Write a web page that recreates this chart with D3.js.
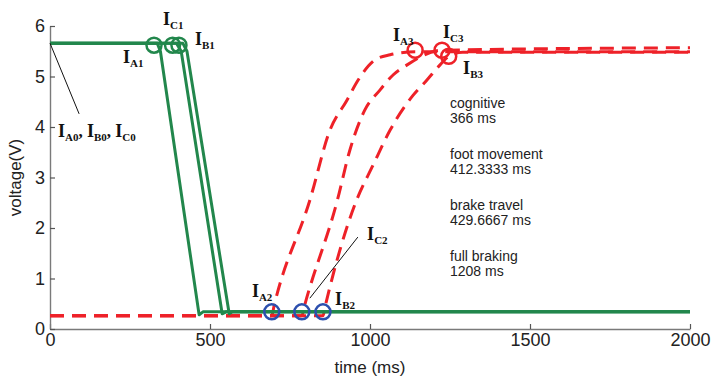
<!DOCTYPE html>
<html>
<head>
<meta charset="utf-8">
<script src="https://cdn.jsdelivr.net/npm/d3@7"></script>
<style>
  body { margin: 0; background: #fff; }
  svg { display: block; }
</style>
</head>
<body>
<div id="chart"></div>
<script>
// pedal signal traces: [time ms, voltage V]
const greenA = [[0,5.66],[335,5.66],[345,5.5],[466,0.28],[478,0.34],[2000,0.34]]
const greenC = [[0,5.66],[395,5.66],[410,5.5],[538,0.3],[550,0.34],[2000,0.34]]
const greenB = [[0,5.66],[415,5.66],[428,5.5],[560,0.3],[570,0.34],[2000,0.34]]

const redA = [[0,0.26],[693,0.26],[700,0.45],[812,2.55],[875,3.94],[928,4.53],[963,4.93],[1016,5.33],[1063,5.43],[1141,5.49],[2000,5.49]]
const redC = [[0,0.26],[787,0.26],[795,0.45],[898,2.55],[937,3.54],[984,4.34],[1031,4.73],[1072,5.03],[1116,5.23],[1225,5.52],[2000,5.57]]
const redB = [[0,0.26],[853,0.26],[860,0.45],[958,2.55],[1010,3.25],[1063,3.94],[1135,4.63],[1178,4.93],[1219,5.23],[1246,5.4],[1290,5.48],[2000,5.48]]

// marker circles
const greenPts = [[325,5.62],[383,5.62],[403,5.62]]
const bluePts = [[693,0.34],[787,0.34],[853,0.34]]
const redPts = [[1141,5.52],[1225,5.52],[1246,5.4]]

const xTicks = [0,500,1000,1500,2000]
const yTicks = [0,1,2,3,4,5,6]

// point labels: subscripts, anchor [time, voltage]
const pointLabels = [
  {subs: ["A0","B0","C0"], at: [25,3.8]},
  {subs: ["A1"], at: [228,5.27]},
  {subs: ["C1"], at: [353,6.02]},
  {subs: ["B1"], at: [453,5.62]},
  {subs: ["A2"], at: [631,0.63]},
  {subs: ["B2"], at: [891,0.48]},
  {subs: ["C2"], at: [991,1.76]},
  {subs: ["A3"], at: [1072,5.7]},
  {subs: ["C3"], at: [1228,5.76]},
  {subs: ["B3"], at: [1291,5.05]}
]
const pointers = [[[0,5.66],[91,4.26]], [[812,0.61],[962,1.82]]]

const phaseNames = ["cognitive","foot movement","brake travel","full braking"]
const phaseTimes = ["366 ms","412.3333 ms","429.6667 ms","1208 ms"]

const W = 712, H = 378
const margin = {top: 26, right: 22, bottom: 49, left: 50}

const svg = d3.select("#chart").append("svg")
  .attr("width", W).attr("height", H)

const x = d3.scaleLinear().domain([0,2000]).range([margin.left, W - margin.right])
const y = d3.scaleLinear().domain([0,6]).range([H - margin.bottom, margin.top])

// axes
const xAxis = svg.append("g")
  .attr("transform", `translate(0,${H - margin.bottom})`)
  .call(d3.axisBottom(x).tickValues(xTicks).tickFormat(d3.format("d"))
    .tickSize(-5).tickSizeOuter(0).tickPadding(4))
const yAxis = svg.append("g")
  .attr("transform", `translate(${margin.left},0)`)
  .call(d3.axisLeft(y).tickValues(yTicks).tickFormat(d3.format("d"))
    .tickSize(-5).tickSizeOuter(0).tickPadding(5))

;[xAxis, yAxis].forEach(a => {
  a.select(".domain").attr("stroke", "#7a7a7a").attr("stroke-width", 1.4)
  a.selectAll(".tick line").attr("stroke", "#555").attr("stroke-width", 1.2)
  a.selectAll(".tick text")
    .attr("fill", "#222")
    .style("font-family", "Liberation Sans, Arial, sans-serif")
    .style("font-size", "18px")
})

svg.append("text")
  .attr("x", x(1000)).attr("y", 373)
  .attr("text-anchor", "middle")
  .style("font-family", "Liberation Sans, Arial, sans-serif")
  .style("font-size", "17px").attr("fill", "#222")
  .text("time (ms)")

svg.append("text")
  .attr("transform", `translate(21,${y(3)}) rotate(-90)`)
  .attr("text-anchor", "middle")
  .style("font-family", "Liberation Sans, Arial, sans-serif")
  .style("font-size", "17px").attr("fill", "#222")
  .text("voltage(V)")

const line = d3.line().x(d => x(d[0])).y(d => y(d[1]))

// red dashed traces
const redLine = d3.line().x(d => x(d[0])).y(d => y(d[1])).curve(d3.curveMonotoneX)
;[redA, redC, redB].forEach(s => {
  svg.append("path").datum(s)
    .attr("d", redLine)
    .attr("fill", "none")
    .attr("stroke", "#ee2128")
    .attr("stroke-width", 3)
    .attr("stroke-dasharray", "14,8")
})

// green solid traces
;[greenA, greenC, greenB].forEach(s => {
  svg.append("path").datum(s)
    .attr("d", line)
    .attr("fill", "none")
    .attr("stroke", "#22874c")
    .attr("stroke-width", 3)
    .attr("stroke-linejoin", "round")
})

function rings(pts, color) {
  svg.selectAll(null).data(pts).join("circle")
    .attr("cx", d => x(d[0])).attr("cy", d => y(d[1]))
    .attr("r", 7.5)
    .attr("fill", "none")
    .attr("stroke", color)
    .attr("stroke-width", 2.5)
}
rings(greenPts, "#22874c")
rings(bluePts, "#2c4fae")
rings(redPts, "#ee2128")

// pointer lines
pointers.forEach(p => {
  svg.append("line")
    .attr("x1", x(p[0][0])).attr("y1", y(p[0][1]))
    .attr("x2", x(p[1][0])).attr("y2", y(p[1][1]))
    .attr("stroke", "#111").attr("stroke-width", 1)
})

// I_xx labels
pointLabels.forEach(l => {
  const t = svg.append("text")
    .attr("x", x(l.at[0])).attr("y", y(l.at[1]))
    .style("font-family", "Liberation Serif, Times New Roman, serif")
    .style("font-weight", "bold")
    .attr("fill", "#111")
  l.subs.forEach((s, i) => {
    if (i > 0) t.append("tspan").attr("dy", -4).style("font-size", "17px").text(", ")
    t.append("tspan").style("font-size", "18px").text("I")
    t.append("tspan").attr("dy", 4).style("font-size", "11px").text(s)
  })
})

// phase durations
const notes = svg.append("g")
  .style("font-family", "Liberation Sans, Arial, sans-serif")
  .style("font-size", "14px")
  .attr("fill", "#222")
phaseNames.forEach((n, i) => {
  const base = 108 + i * 51
  notes.append("text").attr("x", x(1250)).attr("y", base).text(n)
  notes.append("text").attr("x", x(1250)).attr("y", base + 15).text(phaseTimes[i])
})
</script>
</body>
</html>
